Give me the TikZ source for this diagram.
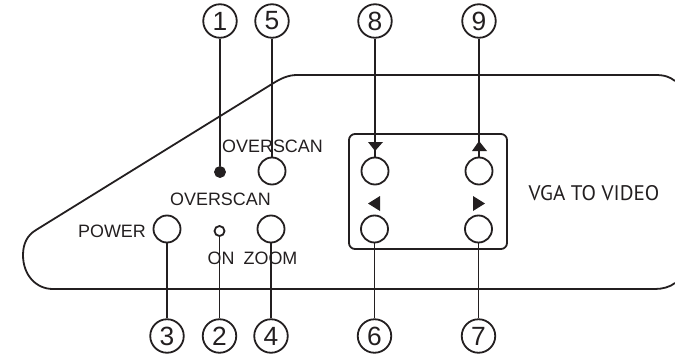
\documentclass[tikz,border=0pt]{standalone}
\usepackage{fontspec}
\setmainfont{Liberation Sans}
\newfontfamily\panelfont{PT Sans}
\definecolor{inkgray}{HTML}{231F20}
\tikzset{
	numcirc/.style={draw=inkgray, circle, line width=0.36mm, minimum size=0.67cm, inner sep=0pt, font=\fontsize{15}{16}\selectfont},
	button/.style={draw=inkgray, circle, line width=0.36mm, minimum size=0.54cm, inner sep=0pt},
	led/.style={draw=inkgray, circle, line width=0.36mm, minimum size=0.2cm, inner sep=0pt},
	caption/.style={inner sep=0pt, font=\fontsize{10.2}{11}\selectfont},
	leader/.style={line width=0.36mm, inkgray},
}

\begin{document}
\begin{tikzpicture}[text=inkgray]
\useasboundingbox (0,0) rectangle (13.5,7.12);

% Housing
\draw[leader] (13.5,5.50) .. controls (13.4,5.58) and (13.3,5.62) .. (13.1,5.62) --
	(5.94,5.62) .. controls (5.75,5.62) and (5.6,5.54) .. (5.44,5.44) --
	(0.72,2.52) .. controls (0.55,2.42) and (0.46,2.25) .. (0.46,2.02)
	.. controls (0.46,1.62) and (0.72,1.34) .. (1.06,1.34) --
	(13.1,1.34) .. controls (13.25,1.34) and (13.4,1.38) .. (13.5,1.46);
\draw[leader, rounded corners=1.2mm] (6.98,2.14) rectangle (10.14,4.44);

% Buttons and lamps
\node[led, fill=inkgray] (led1) at (4.40,3.68) {};
\node[led] (led2) at (4.39,2.50) {};
\node[button] (power) at (3.34,2.54) {};
\node[button] (zoom) at (5.42,2.54) {};
\node[button] (overscan) at (5.44,3.70) {};
\node[button] (down) at (7.50,3.70) {};
\node[button] (up) at (9.58,3.70) {};
\node[button] (left) at (7.49,2.54) {};
\node[button] (right) at (9.57,2.54) {};

% Numbers
\node[numcirc] (n1) at (4.40,6.70) {1};
\node[numcirc] (n5) at (5.44,6.70) {5};
\node[numcirc] (n8) at (7.50,6.70) {8};
\node[numcirc] (n9) at (9.58,6.70) {9};
\node[numcirc] (n3) at (3.34,0.40) {3};
\node[numcirc] (n2) at (4.39,0.40) {2};
\node[numcirc] (n4) at (5.42,0.40) {4};
\node[numcirc] (n6) at (7.49,0.40) {6};
\node[numcirc] (n7) at (9.57,0.40) {7};

\draw[leader] (n1) -- (led1);
\draw[leader] (n5) -- (overscan);
\draw[leader] (n8) -- (down);
\draw[leader] (n9) -- (up);
\draw[leader] (n3) -- (power);
\draw[leader] (n2) -- (led2);
\draw[leader] (n4) -- (zoom);
\draw[leader] (n6) -- (left);
\draw[leader] (n7) -- (right);

% Arrow marks
\fill[inkgray] (7.36,4.28) -- (7.66,4.28) -- (7.50,4.10) -- cycle;
\fill[inkgray] (9.44,4.10) -- (9.74,4.10) -- (9.58,4.30) -- cycle;
\fill[inkgray] (7.60,3.20) -- (7.60,2.90) -- (7.36,3.05) -- cycle;
\fill[inkgray] (9.46,3.20) -- (9.46,2.90) -- (9.70,3.05) -- cycle;

% Labels
\node[caption] (lbl-over1) at (5.45,4.20) {OVERSCAN};
\node[caption] (lbl-over2) at (4.41,3.14) {OVERSCAN};
\node[caption] (lbl-power) at (2.24,2.50) {POWER};
\node[caption] (lbl-on) at (4.42,1.96) {ON};
\node[caption] (lbl-zoom) at (5.41,1.96) {ZOOM};
\node[inner sep=0pt, font=\panelfont\fontsize{12}{13}\selectfont] (lbl-model) at (11.88,3.26) {VGA TO VIDEO};

\end{tikzpicture}
\end{document}
